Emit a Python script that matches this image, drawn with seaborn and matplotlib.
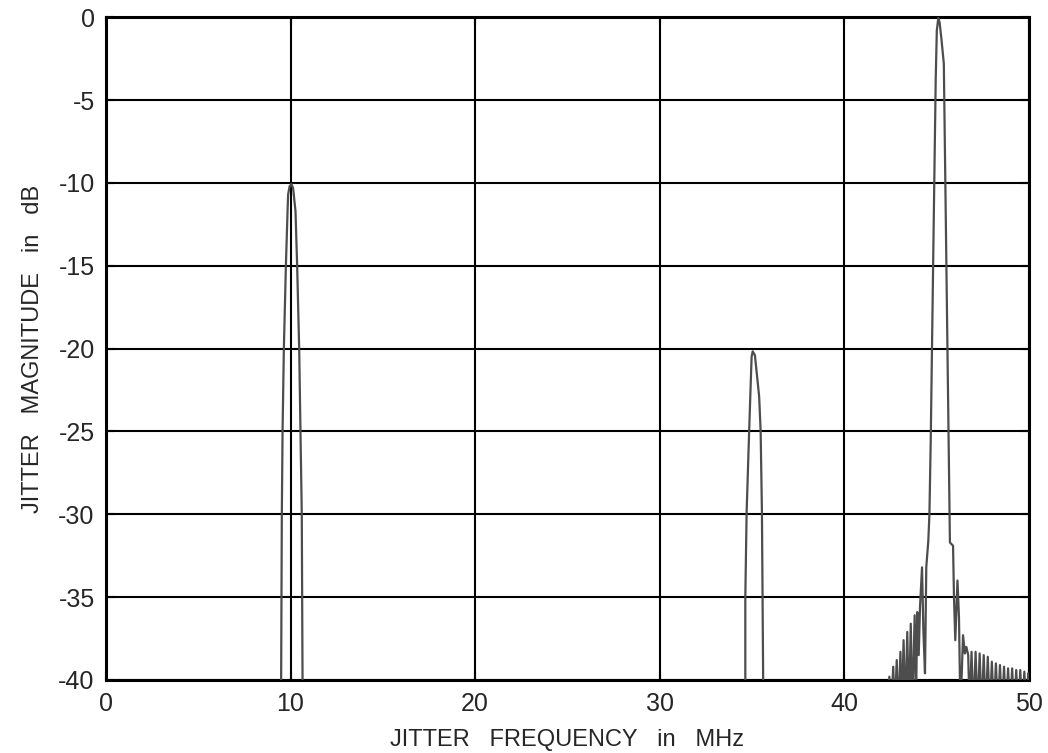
import numpy as np
import pandas as pd
import seaborn as sns
import matplotlib
matplotlib.use("Agg")
import matplotlib.pyplot as plt

# spectrum trace (MHz, dB); values below -40 are clipped by the axis
freq_mhz = [
    0.0, 9.40, 9.485, 9.53, 9.57, 9.64, 9.75, 9.84, 9.87, 9.95, 10.05, 10.14, 10.27, 10.36, 10.47, 10.54, 10.61, 10.66, 10.75,
    34.55, 34.63, 34.63, 34.70, 34.84, 34.97, 35.03, 35.15, 35.38, 35.46, 35.53, 35.61, 35.70,
    42.20, 42.35, 42.43, 42.52, 42.64, 42.72, 42.83, 42.92, 43.03, 43.11, 43.20, 43.30, 43.40, 43.49, 43.59,
    43.68, 43.80, 43.88, 43.94, 44.02, 44.09, 44.20, 44.27, 44.36,
    44.43, 44.54, 44.60, 44.67, 44.80, 44.94, 45.00, 45.08, 45.15, 45.25, 45.38, 45.71, 45.88,
    45.93, 46.00, 46.12, 46.20, 46.28, 46.42, 46.52, 46.60, 46.70,
    46.78, 46.88, 46.99, 47.10, 47.21, 47.32, 47.43, 47.54, 47.65, 47.76, 47.87, 47.98, 48.09, 48.20,
    48.31, 48.42, 48.53, 48.64, 48.75, 48.86, 48.97, 49.08, 49.19, 49.30, 49.41, 49.52, 49.63, 49.74,
    49.85, 49.95, 50.0,
]
magnitude_db = [
    -60, -60, -42, -30, -25, -20, -15, -11.7, -10.7, -10.2, -10.06, -10.3, -11.7, -15, -20, -25, -30, -42, -60,
    -60, -42, -35, -29.9, -24.9, -20.5, -20.16, -20.4, -22.9, -25, -29.9, -42, -60,
    -60, -42, -39.8, -42, -39.2, -42, -38.8, -42, -38.3, -42, -37.6, -42, -37.1, -42, -36.6,
    -42, -36.1, -41, -35.9, -38.5, -35.6, -33.2, -36.9, -39.6,
    -33.2, -31.6, -30.0, -25.6, -15, -3.8, -0.8, -0.05, -0.3, -1.3, -2.8, -31.7, -31.9,
    -35.0, -37.6, -34.0, -36.2, -42, -37.3, -38.4, -38.0, -38.5,
    -42, -38.3, -42, -38.3, -42, -38.4, -42, -38.5, -42, -38.6, -42, -38.9, -42, -39.0,
    -42, -39.1, -42, -39.2, -42, -39.3, -42, -39.3, -42, -39.4, -42, -39.4, -42, -39.5,
    -42, -39.6, -41,
]

x_ticks = [0, 10, 20, 30, 40, 50]
y_ticks = [-40, -35, -30, -25, -20, -15, -10, -5, 0]

df = pd.DataFrame({"freq": freq_mhz, "db": magnitude_db})

sns.set_style("white")
plt.rcParams["font.family"] = ["Liberation Sans", "DejaVu Sans"]
plt.rcParams["axes.unicode_minus"] = False

fig = plt.figure(figsize=(10.48, 7.53), dpi=100)
ax = fig.add_axes([0.101, 0.097, 0.881, 0.880])

sns.lineplot(data=df, x="freq", y="db", sort=False, estimator=None,
             color="#4d4d4d", linewidth=1.6, ax=ax, zorder=3)

ax.set_xlim(0, 50)
ax.set_ylim(-40, 0)
ax.set_xticks(x_ticks)
ax.set_yticks(y_ticks)
ax.grid(True, color="black", linewidth=1.5)
ax.set_axisbelow(True)

for side in ax.spines.values():
    side.set_visible(True)
    side.set_color("black")
    side.set_linewidth(2.2)

ax.tick_params(axis="both", direction="in", length=6, width=1.5, color="black",
               labelsize=18, top=True, right=True, bottom=True, left=True)
ax.tick_params(axis="x", pad=9)
ax.tick_params(axis="y", pad=8)

ax.set_xlabel("JITTER   FREQUENCY   in   MHz", fontsize=17, labelpad=9)
ax.set_ylabel("JITTER   MAGNITUDE   in   dB", fontsize=17, labelpad=10)

fig.savefig("out.png", dpi=100)
plt.close(fig)
